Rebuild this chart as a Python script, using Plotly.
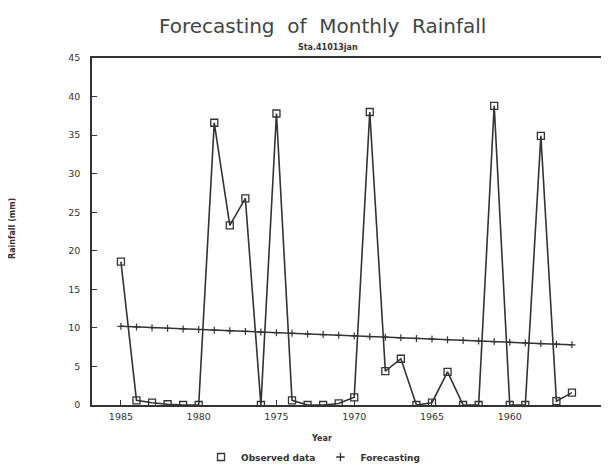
import plotly.graph_objects as go

years = [1985, 1984, 1983, 1982, 1981, 1980, 1979, 1978, 1977, 1976,
         1975, 1974, 1973, 1972, 1971, 1970, 1969, 1968, 1967, 1966,
         1965, 1964, 1963, 1962, 1961, 1960, 1959, 1958, 1957, 1956]
observed = [18.6, 0.6, 0.3, 0.1, 0.0, 0.0, 36.6, 23.3, 26.8, 0.0,
            37.8, 0.6, 0.0, 0.0, 0.2, 1.0, 38.0, 4.4, 6.0, 0.0,
            0.3, 4.3, 0.0, 0.0, 38.8, 0.0, 0.0, 34.9, 0.5, 1.6]
forecast = [10.2, 10.12, 10.03, 9.95, 9.87, 9.79, 9.70, 9.62, 9.54, 9.46,
            9.37, 9.29, 9.21, 9.13, 9.04, 8.96, 8.88, 8.80, 8.71, 8.63,
            8.55, 8.47, 8.38, 8.30, 8.22, 8.14, 8.05, 7.97, 7.89, 7.80]
x_ticks = [1985, 1980, 1975, 1970, 1965, 1960]
y_ticks = [0, 5, 10, 15, 20, 25, 30, 35, 40, 45]

OFF = 8  # default page body margin
W, H = 609 - OFF, 466 - OFF
ML, MT = 92 - OFF, 58 - OFF
MR = W - (604 - OFF)
MB = H - (405 - OFF)
pw, ph = W - ML - MR, H - MT - MB

ink = "#333333"
fig = go.Figure()
fig.add_trace(go.Scatter(
    x=years, y=forecast, mode="lines+markers", showlegend=False,
    line=dict(color=ink, width=1.5),
    marker=dict(symbol="cross-thin", size=5, line=dict(color=ink, width=1.2)),
))
fig.add_trace(go.Scatter(
    x=years, y=observed, mode="lines+markers", showlegend=False,
    line=dict(color=ink, width=1.6),
    marker=dict(symbol="square-open", size=7, color=ink, line=dict(width=1.3)),
))
# legend entries (markers only, as in the reference)
fig.add_trace(go.Scatter(
    x=[None], y=[None], mode="markers", name="<b>Observed data</b>",
    marker=dict(symbol="square-open", size=7, color=ink, line=dict(width=1.3)),
))
fig.add_trace(go.Scatter(
    x=[None], y=[None], mode="markers", name="<b>Forecasting</b>",
    marker=dict(symbol="cross-thin", size=6, line=dict(color=ink, width=1.3)),
))


def px_ann(text, x, y, size, angle=0, color=ink):
    # x, y given in page pixels
    x -= OFF
    y -= OFF
    return dict(text=text, x=(x - ML) / pw, y=(H - MB - y) / ph, xref="paper", yref="paper",
                xanchor="center", yanchor="middle", showarrow=False, textangle=angle,
                font=dict(size=size, color=color))


nb = "&nbsp;"
fig.update_layout(
    width=W, height=H,
    margin=dict(l=ML, r=MR, t=MT, b=MB, autoexpand=False),
    paper_bgcolor="white", plot_bgcolor="white",
    font=dict(family="DejaVu Sans", color=ink, size=9),
    showlegend=True,
    legend=dict(orientation="h", x=(313 - OFF - ML) / pw, xanchor="center",
                y=(H - MB - (457 - OFF)) / ph, yanchor="middle",
                font=dict(size=9, color=ink), itemwidth=30,
                bgcolor="rgba(0,0,0,0)"),
    annotations=[
        px_ann(f"Forecasting{nb}{nb}of{nb}{nb}Monthly{nb}{nb}Rainfall", 322, 26, 20, color="#444444"),
        px_ann("<b>Sta.41013jan</b>", 328, 48, 8),
        px_ann("<b>Year</b>", 321, 438, 8),
        px_ann("<b>Rainfall (mm)</b>", 12, 229, 8, angle=-90),
    ],
)

fig.update_xaxes(
    range=[1986.86, 1953.94], tickvals=x_ticks, ticktext=[str(v) for v in x_ticks],
    ticks="inside", ticklen=5, tickwidth=1, tickcolor=ink,
    showline=True, linecolor=ink, linewidth=1.5, mirror=True,
    showgrid=False, zeroline=False, tickfont=dict(size=9.5, color=ink),
    ticklabelstandoff=2,
)
fig.update_yaxes(
    range=[0, 45], tickvals=y_ticks, ticks="inside", ticklen=5, tickwidth=1, tickcolor=ink,
    showline=True, linecolor=ink, linewidth=1.5, mirror=True,
    showgrid=False, zeroline=False, tickfont=dict(size=9.5, color=ink),
    ticklabelstandoff=8,
)

fig.write_html("out.html")
